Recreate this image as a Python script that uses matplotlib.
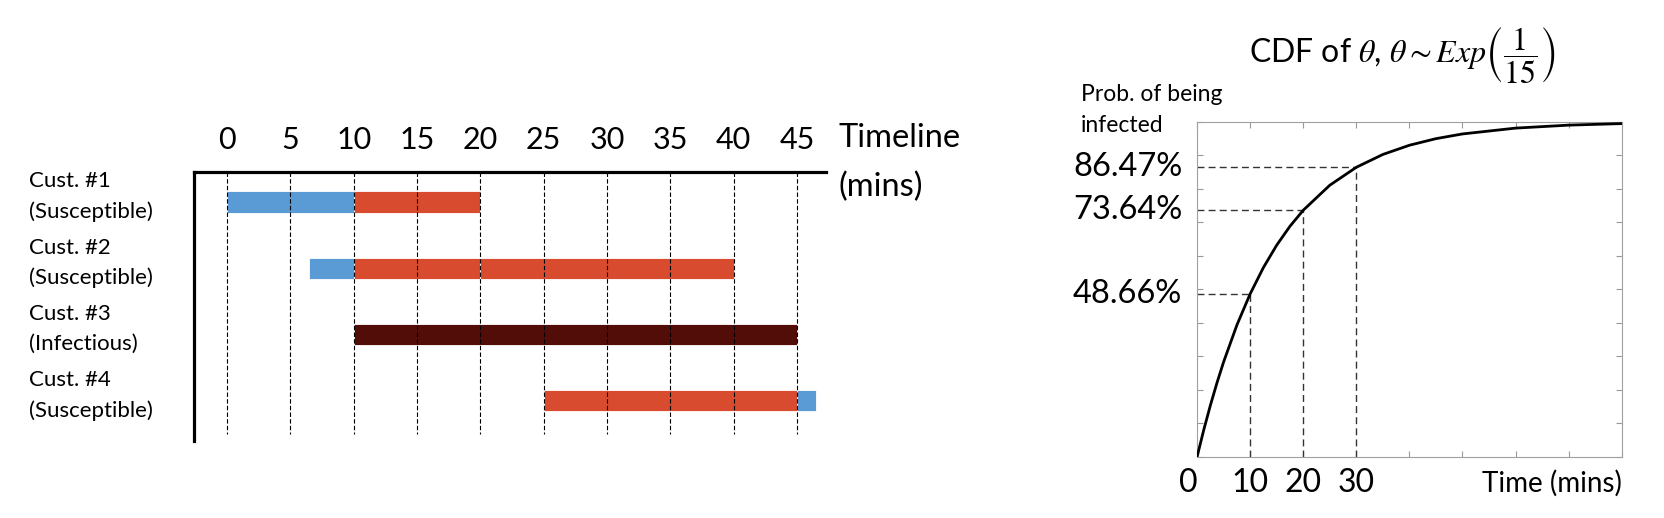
import numpy as np
import matplotlib.pyplot as plt
from matplotlib.transforms import blended_transform_factory

plt.rcParams['font.family'] = ['Lato', 'DejaVu Sans']
plt.rcParams['mathtext.fontset'] = 'stix'

# Zeitachse (Minuten)
tick_mins = [0, 5, 10, 15, 20, 25, 30, 35, 40, 45]

# Kunden und ihr Zustand
cust_names = ['Cust. #1', 'Cust. #2', 'Cust. #3', 'Cust. #4']
cust_states = ['(Susceptible)', '(Susceptible)', '(Infectious)', '(Susceptible)']

# Balkenabschnitte: Kunde, Start, Ende, Zustand
seg_cust = [0, 0, 1, 1, 1, 2, 3, 3]
seg_start = [0, 10, 6.5, 10, 20, 10, 25, 45]
seg_end = [10, 20, 10, 20, 40, 45, 45, 46.5]
seg_state = ['S', 'E', 'S', 'E', 'E', 'I', 'E', 'S']

farben = {'S': '#5B9BD5', 'E': '#D94B2E', 'I': '#520D09'}

# CDF-Kurve
cdf_t = [0, 1.25, 2.5, 3.75, 5, 7.5, 10, 12.5, 15, 17.5, 20, 25, 30, 35, 40, 45, 50, 60, 70, 80]
cdf_p = [0, 0.0800, 0.1535, 0.2212, 0.2835, 0.3935, 0.4866, 0.5654, 0.6321, 0.6886, 0.7364,
         0.8111, 0.8647, 0.9030, 0.9305, 0.9502, 0.9643, 0.9817, 0.9906, 0.9952]

# markierte Punkte
mark_t = [10, 20, 30]
mark_p = [0.4866, 0.7364, 0.8647]
mark_lbl = ['48.66%', '73.64%', '86.47%']

fig = plt.figure(figsize=(16.65, 5.18), dpi=100)

# ---- linke Grafik: Zeitstrahl ----
ax = fig.add_axes([0.1166, 0.1486, 0.3796, 0.519])
for c, s, e, st in zip(seg_cust, seg_start, seg_end, seg_state):
    ax.barh(c, e - s, left=s, height=0.32, color=farben[st],
            edgecolor='white', linewidth=0.6, zorder=2)

ax.vlines(tick_mins, -0.45, 3.5, colors='black', linestyles=(0, (4, 2)),
          linewidth=0.8, zorder=3)

ax.set_xlim(-2.6, 47.3)
ax.set_ylim(3.61, -0.45)
ax.xaxis.tick_top()
ax.set_xticks(tick_mins)
ax.tick_params(axis='x', length=0, pad=13, labelsize=22)
ax.set_yticks([])
for sp in ['right', 'bottom']:
    ax.spines[sp].set_visible(False)
for sp in ['left', 'top']:
    ax.spines[sp].set_linewidth(2.3)

trans = blended_transform_factory(fig.transFigure, ax.transData)
for i, (n, st) in enumerate(zip(cust_names, cust_states)):
    ax.text(0.0174, i - 0.08, n + '\n' + st, transform=trans, ha='left',
            va='center', fontsize=16, linespacing=1.6)

ax.text(1.02, 1.126, 'Timeline', transform=ax.transAxes, ha='left',
        va='center', fontsize=23.5)
ax.text(1.02, 0.945, '(mins)', transform=ax.transAxes, ha='left',
        va='center', fontsize=23.5)

# ---- rechte Grafik: CDF ----
ax2 = fig.add_axes([0.719, 0.1185, 0.255, 0.646])
ax2.plot(cdf_t, cdf_p, color='black', linewidth=2, zorder=3)
for t, p in zip(mark_t, mark_p):
    ax2.plot([0, t], [p, p], color='#333333', linestyle=(0, (5, 3)), linewidth=1)
    ax2.plot([t, t], [0, p], color='#333333', linestyle=(0, (5, 3)), linewidth=1)

ax2.set_xlim(0, 80)
ax2.set_ylim(0, 1)
ax2.set_xticks(np.arange(0, 81, 10))
ax2.set_yticks(np.arange(0, 1.01, 0.1))
ax2.set_xticklabels([])
ax2.set_yticklabels([])
ax2.tick_params(direction='in', top=True, right=True, color='#999999', length=4)
for sp in ax2.spines.values():
    sp.set_color('#A0A0A0')

trans2 = blended_transform_factory(ax2.transAxes, ax2.transData)
for p, lbl in zip(mark_p, mark_lbl):
    ax2.text(-0.035, p, lbl, transform=trans2, ha='right', va='center', fontsize=23.5)
for t in [0] + mark_t:
    ax2.text(t, -0.08, str(t), ha='right' if t == 0 else 'center',
             va='center', fontsize=23)
ax2.text(1.0, -0.08, 'Time (mins)', transform=trans2, ha='right',
         va='center', fontsize=20)

fig.text(0.649, 0.787, 'Prob. of being\ninfected', ha='left', va='center',
         fontsize=16.5, linespacing=1.6)
fig.text(0.842, 0.893, r'CDF of $\theta$, $\theta\sim Exp\left(\dfrac{1}{15}\right)$',
         ha='center', va='center', fontsize=23)

fig.savefig('out.png', dpi=100)
